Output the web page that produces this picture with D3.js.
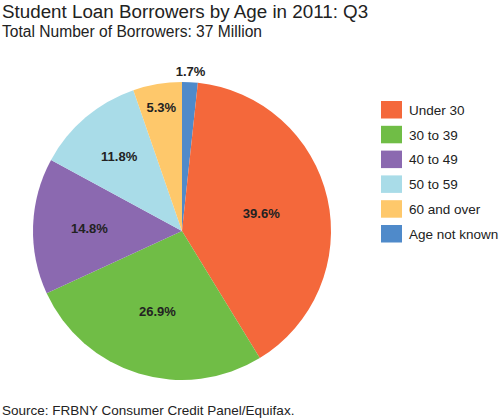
<!DOCTYPE html>
<html>
<head>
<meta charset="utf-8">
<script src="https://cdn.jsdelivr.net/npm/d3@7"></script>
<style>
  body { margin: 0; background: #fff; }
  svg { display: block; font-family: "Liberation Sans", Arial, sans-serif; }
</style>
</head>
<body>
<div class="wrapper"></div>
<script>
const width = 499;
const height = 420;

// Slices in clockwise order from 12 o'clock
const categories = ["Age not known", "Under 30", "30 to 39", "40 to 49", "50 to 59", "60 and over"];
const shares = [1.7, 39.6, 26.9, 14.8, 11.8, 5.3];
const colors = ["#4f8aca", "#f4683b", "#70bd46", "#8b69b0", "#a9dce8", "#fec86b"];

// Legend reads top to bottom in this order
const legendOrder = ["Under 30", "30 to 39", "40 to 49", "50 to 59", "60 and over", "Age not known"];

const data = categories.map((name, i) => ({ name, value: shares[i] }));
const color = d3.scaleOrdinal().domain(categories).range(colors);

const svg = d3
  .select(".wrapper")
  .append("svg")
  .attr("width", width)
  .attr("height", height)
  .attr("viewBox", [0, 0, width, height]);

svg.append("text")
  .attr("x", 2)
  .attr("y", 18)
  .attr("font-size", 18.8)
  .attr("fill", "#222")
  .text("Student Loan Borrowers by Age in 2011: Q3");

svg.append("text")
  .attr("x", 2)
  .attr("y", 37)
  .attr("font-size", 15.6)
  .attr("fill", "#222")
  .text("Total Number of Borrowers: 37 Million");

svg.append("text")
  .attr("x", 2)
  .attr("y", 415)
  .attr("font-size", 13.5)
  .attr("fill", "#222")
  .text("Source: FRBNY Consumer Credit Panel/Equifax.");

const cx = 182;
const cy = 231;
const radius = 149;

const pie = d3.pie().sort(null).value((d) => d.value);
const arcs = pie(data);
const arc = d3.arc().innerRadius(0).outerRadius(radius);

const g = svg.append("g").attr("transform", `translate(${cx},${cy})`);

g.selectAll("path")
  .data(arcs)
  .join("path")
  .attr("d", arc)
  .attr("fill", (d) => color(d.data.name));

// Smaller slices push their label further out, tiny ones go outside
const total = d3.sum(shares);
const labelRadius = (d) => {
  const f = d.data.value / total;
  return f < 0.03 ? radius + 11 : radius * (0.5 + 0.018 / f);
};

g.selectAll("text.label")
  .data(arcs)
  .join("text")
  .attr("class", "label")
  .attr("transform", (d) => {
    const r = labelRadius(d);
    return `translate(${d3.arc().innerRadius(r).outerRadius(r).centroid(d)})`;
  })
  .attr("text-anchor", "middle")
  .attr("dy", "0.35em")
  .attr("font-size", 13)
  .attr("font-weight", "bold")
  .attr("fill", "#222")
  .text((d) => `${d.data.value.toFixed(1)}%`);

const legend = svg.append("g").attr("transform", "translate(381,101)");
const y = d3.scaleBand().domain(legendOrder).range([0, legendOrder.length * 24.8]);

const item = legend.selectAll("g")
  .data(legendOrder)
  .join("g")
  .attr("transform", (d) => `translate(0,${y(d)})`);

item.append("rect")
  .attr("width", 21)
  .attr("height", 17.5)
  .attr("fill", (d) => color(d));

item.append("text")
  .attr("x", 28)
  .attr("y", 9)
  .attr("dy", "0.35em")
  .attr("font-size", 13.5)
  .attr("fill", "#222")
  .text((d) => d);
</script>
</body>
</html>
